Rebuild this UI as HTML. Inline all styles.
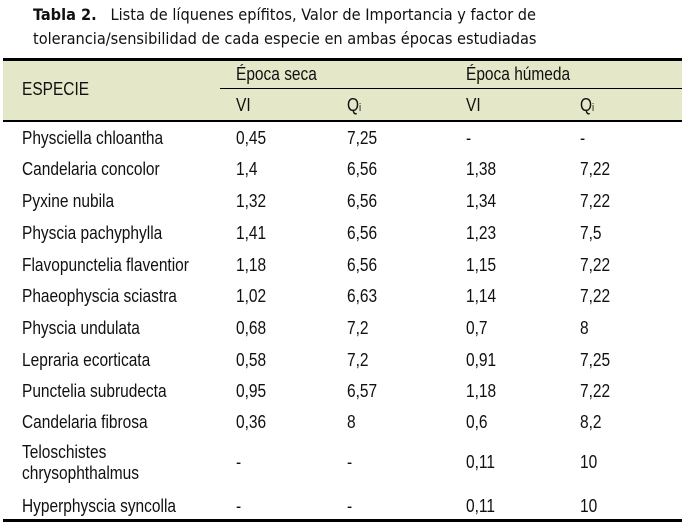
<!DOCTYPE html>
<html><head><meta charset="utf-8"><style>
body{margin:0;width:686px;height:530px;background:#fff;position:relative;overflow:hidden;font-family:"Liberation Sans",sans-serif;color:#111}
.t{position:absolute;font-family:"DejaVu Sans Condensed","Liberation Sans",sans-serif;font-size:16.2px;left:33px;color:#111;white-space:nowrap}
.c{position:absolute;font-size:18px;white-space:nowrap;line-height:20px;transform:scaleX(0.86);transform-origin:0 0}
.l{position:absolute;background:#000}
</style></head><body>
<div class="t" style="top:5px"><b>Tabla 2.</b>&nbsp;&nbsp; Lista de líquenes epífitos, Valor de Importancia y factor de</div>
<div class="t" style="top:29px">tolerancia/sensibilidad de cada especie en ambas épocas estudiadas</div>
<div style="position:absolute;left:3px;top:59px;width:679px;height:62px;background:#e4e8c9"></div>
<div class="l" style="left:3px;top:58px;width:679px;height:3px"></div>
<div class="l" style="left:220px;top:88px;width:462px;height:1px"></div>
<div class="l" style="left:3px;top:120px;width:679px;height:2px"></div>
<div class="l" style="left:3px;top:519px;width:679px;height:3px"></div>
<div class="c" style="left:22px;top:79px">ESPECIE</div>
<div class="c" style="left:236px;top:64px">Época seca</div>
<div class="c" style="left:466px;top:64px">Época húmeda</div>
<div class="c" style="left:236px;top:95px">VI</div>
<div class="c" style="left:347px;top:95px">Q<span style="font-size:11px">i</span></div>
<div class="c" style="left:466px;top:95px">VI</div>
<div class="c" style="left:580px;top:95px">Q<span style="font-size:11px">i</span></div>
<div class="c" style="left:22px;top:128px">Physciella chloantha</div><div class="c" style="left:236px;top:128px">0,45</div><div class="c" style="left:347px;top:128px">7,25</div><div class="c" style="left:466px;top:128px">-</div><div class="c" style="left:580px;top:128px">-</div>
<div class="c" style="left:22px;top:159px">Candelaria concolor</div><div class="c" style="left:236px;top:159px">1,4</div><div class="c" style="left:347px;top:159px">6,56</div><div class="c" style="left:466px;top:159px">1,38</div><div class="c" style="left:580px;top:159px">7,22</div>
<div class="c" style="left:22px;top:191px">Pyxine nubila</div><div class="c" style="left:236px;top:191px">1,32</div><div class="c" style="left:347px;top:191px">6,56</div><div class="c" style="left:466px;top:191px">1,34</div><div class="c" style="left:580px;top:191px">7,22</div>
<div class="c" style="left:22px;top:223px">Physcia pachyphylla</div><div class="c" style="left:236px;top:223px">1,41</div><div class="c" style="left:347px;top:223px">6,56</div><div class="c" style="left:466px;top:223px">1,23</div><div class="c" style="left:580px;top:223px">7,5</div>
<div class="c" style="left:22px;top:255px">Flavopunctelia flaventior</div><div class="c" style="left:236px;top:255px">1,18</div><div class="c" style="left:347px;top:255px">6,56</div><div class="c" style="left:466px;top:255px">1,15</div><div class="c" style="left:580px;top:255px">7,22</div>
<div class="c" style="left:22px;top:286px">Phaeophyscia sciastra</div><div class="c" style="left:236px;top:286px">1,02</div><div class="c" style="left:347px;top:286px">6,63</div><div class="c" style="left:466px;top:286px">1,14</div><div class="c" style="left:580px;top:286px">7,22</div>
<div class="c" style="left:22px;top:318px">Physcia undulata</div><div class="c" style="left:236px;top:318px">0,68</div><div class="c" style="left:347px;top:318px">7,2</div><div class="c" style="left:466px;top:318px">0,7</div><div class="c" style="left:580px;top:318px">8</div>
<div class="c" style="left:22px;top:350px">Lepraria ecorticata</div><div class="c" style="left:236px;top:350px">0,58</div><div class="c" style="left:347px;top:350px">7,2</div><div class="c" style="left:466px;top:350px">0,91</div><div class="c" style="left:580px;top:350px">7,25</div>
<div class="c" style="left:22px;top:381px">Punctelia subrudecta</div><div class="c" style="left:236px;top:381px">0,95</div><div class="c" style="left:347px;top:381px">6,57</div><div class="c" style="left:466px;top:381px">1,18</div><div class="c" style="left:580px;top:381px">7,22</div>
<div class="c" style="left:22px;top:412px">Candelaria fibrosa</div><div class="c" style="left:236px;top:412px">0,36</div><div class="c" style="left:347px;top:412px">8</div><div class="c" style="left:466px;top:412px">0,6</div><div class="c" style="left:580px;top:412px">8,2</div>
<div class="c" style="left:22px;top:442px">Teloschistes</div><div class="c" style="left:22px;top:463px">chrysophthalmus</div><div class="c" style="left:236px;top:452px">-</div><div class="c" style="left:347px;top:452px">-</div><div class="c" style="left:466px;top:452px">0,11</div><div class="c" style="left:580px;top:452px">10</div>
<div class="c" style="left:22px;top:496px">Hyperphyscia syncolla</div><div class="c" style="left:236px;top:496px">-</div><div class="c" style="left:347px;top:496px">-</div><div class="c" style="left:466px;top:496px">0,11</div><div class="c" style="left:580px;top:496px">10</div>
</body></html>
